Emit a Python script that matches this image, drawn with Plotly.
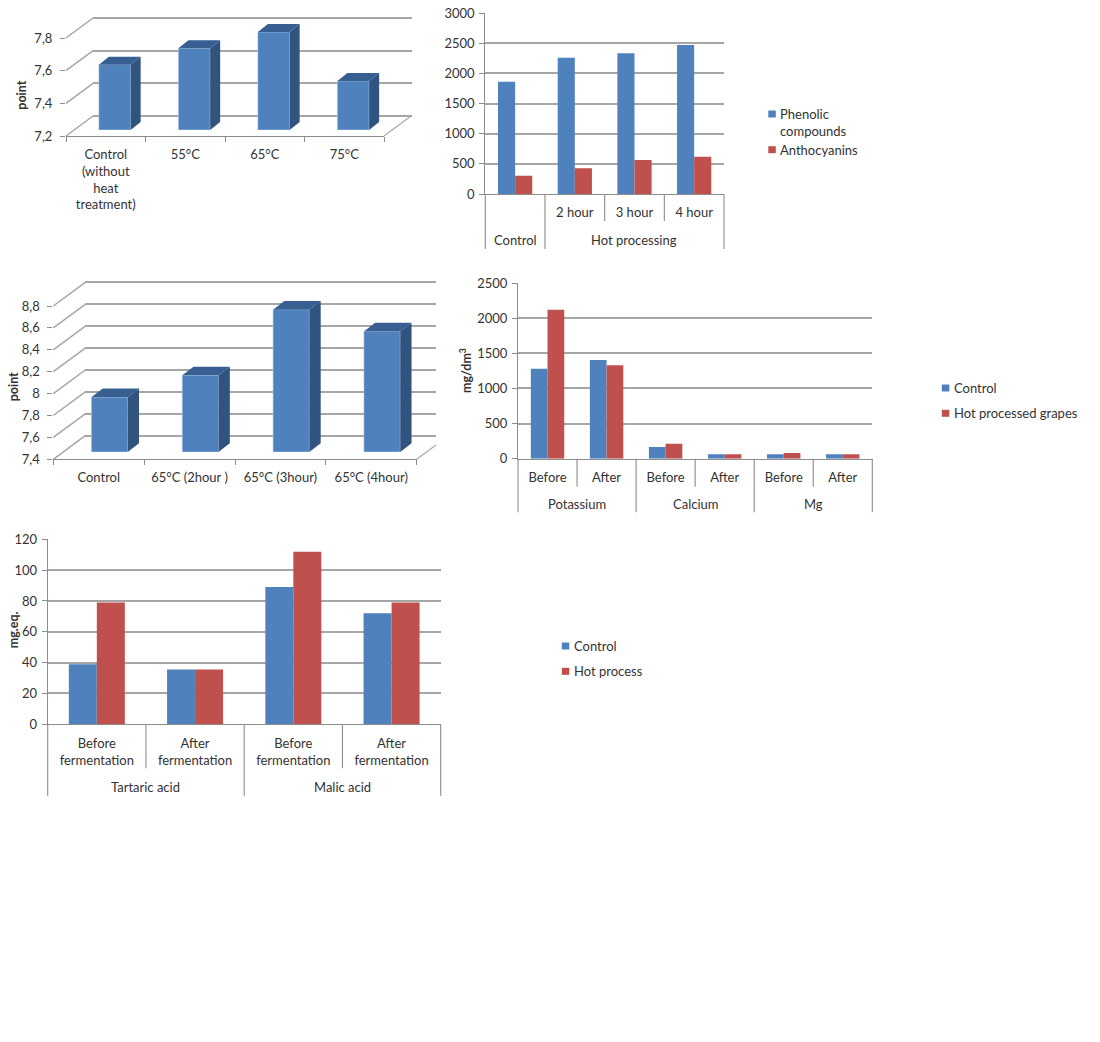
import plotly.graph_objects as go

W, H = 1100, 1042
BLUE, RED = "#4f81bd", "#c0504d"
SIDE, TOP = "#31547f", "#375f92"
GRID, AXIS = "#a6a6a6", "#8c8c8c"
TEXT = "#333333"
FONT = "Lato"
FS = 13

# Sensory score by heating temperature
temp_labels = ["Control<br>(without<br>heat<br>treatment)", "55°C", "65°C", "75°C"]
temp_scores = [7.6, 7.7, 7.8, 7.5]
temp_ticks = [7.2, 7.4, 7.6, 7.8]
temp_ticktext = ["7,2", "7,4", "7,6", "7,8"]

# Sensory score by heating time
time_labels = ["Control", "65°C (2hour )", "65°C (3hour)", "65°C (4hour)"]
time_scores = [7.9, 8.1, 8.7, 8.5]
time_ticks = [7.4, 7.6, 7.8, 8.0, 8.2, 8.4, 8.6, 8.8]
time_ticktext = ["7,4", "7,6", "7,8", "8", "8,2", "8,4", "8,6", "8,8"]

# Phenolics and anthocyanins
phen_labels = [None, "2 hour", "3 hour", "4 hour"]
phen_groups = [("Control", 1), ("Hot processing", 3)]
phenolic = [1862, 2260, 2331, 2470]
anthocyanin = [304, 425, 563, 619]

# Minerals before and after fermentation
mineral_labels = ["Before", "After", "Before", "After", "Before", "After"]
mineral_groups = [("Potassium", 2), ("Calcium", 2), ("Mg", 2)]
mineral_control = [1281, 1404, 166, 62, 62, 62]
mineral_hot = [2120, 1328, 213, 62, 81, 62]

# Organic acids
acid_labels = ["Before<br>fermentation", "After<br>fermentation",
               "Before<br>fermentation", "After<br>fermentation"]
acid_groups = [("Tartaric acid", 2), ("Malic acid", 2)]
acid_control = [39, 35.5, 89, 72]
acid_hot = [79, 35.5, 112, 79]

fig = go.Figure()
axes_count = 0
shapes, annotations = [], []


def px(x):
    return x / W


def py(y):
    return 1 - y / H


def new_axes(x0, x1, ybot, ytop, xrange, yrange, xopts=None, yopts=None):
    """Adds an x/y axis pair occupying the given pixel box."""
    global axes_count
    axes_count += 1
    n = "" if axes_count == 1 else str(axes_count)
    tickfont = dict(family=FONT, size=FS, color=TEXT)
    xa = dict(domain=[px(x0), px(x1)], range=xrange, anchor="y" + n, showgrid=False,
              zeroline=False, fixedrange=True, tickfont=tickfont, showticklabels=False,
              showline=False, ticks="")
    ya = dict(domain=[py(ybot), py(ytop)], range=yrange, anchor="x" + n, showgrid=False,
              zeroline=False, fixedrange=True, tickfont=tickfont, showticklabels=False,
              showline=False, ticks="")
    xa.update(xopts or {})
    ya.update(yopts or {})
    fig.update_layout({"xaxis" + n: xa, "yaxis" + n: ya})
    # an axis pair only renders once a trace uses it
    fig.add_trace(go.Scatter(x=[xrange[0]], y=[yrange[0]], xaxis="x" + n, yaxis="y" + n, mode="none",
                             hoverinfo="skip", showlegend=False))
    return "x" + n, "y" + n


def text(x, y, s, anchor="center", **kw):
    font = dict(family=FONT, size=kw.pop("size", FS), color=TEXT)
    annotations.append(dict(x=px(x), y=py(y), xref="paper", yref="paper", text=s, showarrow=False,
                            xanchor=anchor, yanchor="middle", font=font, borderpad=0,
                            align="left" if anchor == "left" else "center", **kw))


def line(x0, y0, x1, y1, color=GRID, width=1.5):
    shapes.append(dict(type="line", xref="paper", yref="paper", x0=px(x0), x1=px(x1),
                       y0=py(y0), y1=py(y1), line=dict(color=color, width=width), layer="below"))


def chart_3d(box, back, bars, depth, values, labels, ticks, ticktext, width, standoff, wall_right):
    """Column chart in a perspective box: back wall, front axes, and extruded bars."""
    x0, x1, ybot, ytop = box
    span = ticks[-1] - ticks[0]
    scale = (ybot - ytop) / span
    yr = [ticks[0], ticks[-1]]
    dxb, dyb = back
    dxp, dyp = bars
    n = len(values)

    # back wall gridlines; the range overshoots so the first and last lines are kept
    over = 3
    new_axes(x0 + dxb, wall_right, ybot - dyb + over, ytop - dyb - over, [0, n],
             [ticks[0] - over / scale, ticks[-1] + over / scale],
             yopts=dict(tickmode="array", tickvals=ticks, showgrid=True, gridcolor=GRID, gridwidth=1.6))
    for t in ticks:
        yt = ybot - (t - ticks[0]) * scale
        line(x0, yt, x0 + dxb, yt - dyb)
    # floor edge on the right runs only as far as the wall does
    line(x1, ybot, wall_right, ybot - dyb * (wall_right - x1) / dxb, width=1.1)

    # front plane carries the tick labels
    new_axes(x0, x1, ybot, ytop, [0, n], yr,
             xopts=dict(tickmode="array", tickvals=[i + 0.5 for i in range(n)], ticktext=labels,
                        showticklabels=True, showline=True, linecolor=AXIS, linewidth=1.2,
                        ticklabelstandoff=standoff,
                        minor=dict(tickmode="array", tickvals=list(range(n + 1)), ticks="outside",
                                   ticklen=5, tickcolor=AXIS, tickwidth=1)),
             yopts=dict(tickmode="array", tickvals=ticks, ticktext=ticktext, showticklabels=True,
                        ticks="outside", ticklen=5, tickcolor=AXIS, tickwidth=1,
                        ticklabelstandoff=5))

    # bars stand a little behind the front plane
    pad = 30
    xa, ya = new_axes(x0 + dxp, x1 + dxp, ybot - dyp, ytop - dyp - pad, [0, n],
                      [ticks[0], ticks[-1] + pad / scale])
    cat = (x1 - x0) / n
    ddx, ddy = depth[0] / cat, depth[1] / scale
    xs = [i + 0.5 for i in range(n)]
    sx, sy, tx, ty = [], [], [], []
    for c, v in zip(xs, values):
        r, l = c + width / 2, c - width / 2
        sx += [r, r, r + ddx, r + ddx, r, None]
        sy += [ticks[0], v, v + ddy, ticks[0] + ddy, ticks[0], None]
        tx += [l, r, r + ddx, l + ddx, l, None]
        ty += [v, v, v + ddy, v + ddy, v, None]
    for fx, fy, col in ((sx, sy, SIDE), (tx, ty, TOP)):
        fig.add_trace(go.Scatter(x=fx, y=fy, xaxis=xa, yaxis=ya, mode="lines", fill="toself",
                                 fillcolor=col, line=dict(width=0), hoverinfo="skip",
                                 showlegend=False))
    fig.add_trace(go.Bar(x=xs, y=[v - ticks[0] for v in values], base=ticks[0], width=width,
                         xaxis=xa, yaxis=ya, marker=dict(color=BLUE,
                         line=dict(color="rgba(185,210,238,0.7)", width=0.8)),
                         showlegend=False))


def chart_2d(box, series, names, labels, groups, yticks, width, short_end, long_end, group_y, standoff):
    """Clustered columns with a two-level category axis."""
    x0, x1, ybot, ytop = box
    n = len(labels)
    xs = [i + 0.5 for i in range(n)]
    named = [(c, s) for c, s in zip(xs, labels) if s]
    xa, ya = new_axes(x0, x1, ybot, ytop, [0, n], [yticks[0], yticks[-1]],
                      xopts=dict(tickmode="array", tickvals=[c for c, _ in named],
                                 ticktext=[s for _, s in named], showticklabels=True,
                                 showline=True, linecolor=AXIS, linewidth=1.2,
                                 ticklabelstandoff=standoff),
                      yopts=dict(tickmode="array", tickvals=yticks, showticklabels=True, showline=True,
                                 linecolor=AXIS, linewidth=1.2, ticks="outside", ticklen=5,
                                 tickcolor=AXIS, showgrid=True, gridcolor=GRID, gridwidth=1.5,
                                 ticklabelstandoff=2))
    for vals, name, col, off in zip(series, names, (BLUE, RED), (-width / 2, width / 2)):
        fig.add_trace(go.Bar(x=[c + off for c in xs], y=vals, width=width, name=name, xaxis=xa,
                             yaxis=ya, marker=dict(color=col, line=dict(width=0)), showlegend=False))
    cat = (x1 - x0) / n
    pos = 0
    edges = {0}
    for name, count in groups:
        text(x0 + (pos + count / 2) * cat, group_y, name)
        pos += count
        edges.add(pos)
    for i in range(n + 1):
        end = long_end if i in edges else short_end
        line(x0 + i * cat, ybot, x0 + i * cat, end, color=AXIS, width=1.1)


def legend(x, rows):
    for y, sy, name, col in rows:
        shapes.append(dict(type="rect", xref="paper", yref="paper", x0=px(x), x1=px(x + 7.5),
                           y0=py(sy + 3.5), y1=py(sy - 3.5), fillcolor=col, line=dict(width=0)))
        text(x + 11, y, name, anchor="left")


chart_3d((66, 384, 136, 38), (27, 20), (9, 6), (10, 8), temp_scores, temp_labels,
         temp_ticks, temp_ticktext, 0.4, 6, 412)
chart_3d((53.3, 416.7, 459.3, 306), (32, 23.6), (10.8, 7.3), (11.3, 8.7), time_scores, time_labels,
         time_ticks, time_ticktext, 0.4, 6, 436)

chart_2d((485.3, 724, 194, 13), (phenolic, anthocyanin), ["Phenolic compounds", "Anthocyanins"],
         phen_labels, phen_groups, [0, 500, 1000, 1500, 2000, 2500, 3000], 0.287, 221, 249, 240, 6)
chart_2d((518, 872.3, 458.7, 283), (mineral_control, mineral_hot), ["Control", "Hot processed grapes"],
         mineral_labels, mineral_groups, [0, 500, 1000, 1500, 2000, 2500], 0.283, 486.7, 512.3, 504.3, 7)
chart_2d((47.7, 440.7, 724.3, 539.3), (acid_control, acid_hot), ["Control", "Hot process"],
         acid_labels, acid_groups, [0, 20, 40, 60, 80, 100, 120], 0.285, 768.3, 795.7, 786.7, 7)

legend(768.3, [(122.5, 114, "Phenolic<br>compounds", BLUE), (149.7, 149.7, "Anthocyanins", RED)])
legend(941.8, [(388, 388, "Control", BLUE), (413.3, 413.3, "Hot processed grapes", RED)])
legend(561.8, [(646, 646, "Control", BLUE), (671.3, 671.3, "Hot process", RED)])

text(21.7, 95, "<b>point</b>", size=12.5, textangle=-90)
text(13.3, 387, "<b>point</b>", size=12.5, textangle=-90)
text(465, 371, "<b>mg/dm<sup>3</sup></b>", size=12.5, textangle=-90)
text(13.3, 630, "<b>mg.eq.</b>", size=12.5, textangle=-90)

fig.update_layout(width=W, height=H, margin=dict(l=0, r=0, t=0, b=0, autoexpand=False),
                  paper_bgcolor="white", plot_bgcolor="rgba(0,0,0,0)", showlegend=False,
                  barmode="overlay", font=dict(family=FONT, size=FS, color=TEXT),
                  shapes=shapes, annotations=annotations)
fig.write_html("out.html")
